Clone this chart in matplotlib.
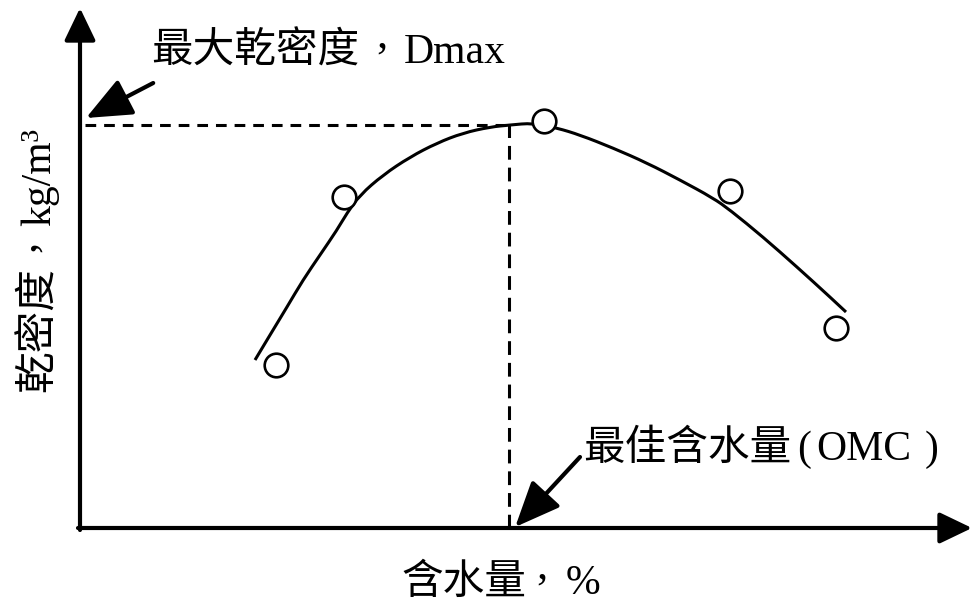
import matplotlib
matplotlib.use("Agg")
import matplotlib.pyplot as plt
from matplotlib.path import Path
from matplotlib.patches import PathPatch

plt.rcParams['font.family'] = ['Liberation Serif', 'Noto Sans CJK TC']

# measured points (moisture %, dry density kg/m3)
moisture = [4.9, 6.6, 11.6, 16.25, 18.9]
density = [1663, 1831, 1907, 1837, 1700]

# hand drawn compaction curve
curve_x = [4.375, 4.75, 5.175, 5.575, 6.0, 6.425, 6.675, 7.0, 7.575, 8.25,
           8.925, 9.575, 10.25, 10.75, 11.325, 11.925, 12.5, 13.325, 14.175,
           15.0, 15.825, 16.25, 17.075, 17.925, 18.75, 19.15]
curve_y = [1668, 1693, 1721, 1748, 1773, 1798, 1815, 1833, 1853, 1871,
           1885, 1895, 1901, 1903, 1905, 1900, 1893, 1880, 1865,
           1848, 1830, 1818, 1791, 1761, 1731, 1716]

dmax = 1903
omc = 10.73

W, H = 973, 603
fig = plt.figure(figsize=(W / 100, H / 100), dpi=100)
ax = fig.add_axes([0, 0, 1, 1])
ax.set_xlim(-2, 22.325)
ax.set_ylim(1425, 2028)
ax.set_axis_off()

# axes with arrow heads
arrow = dict(arrowstyle='-|>,head_length=1.0,head_width=0.48', lw=3,
             color='black', shrinkA=0, shrinkB=0, mutation_scale=20)
ax.annotate('', xy=(0, 2020), xytext=(0, 1498), arrowprops=arrow)
ax.annotate('', xy=(22.3, 1500), xytext=(-0.05, 1500), arrowprops=arrow)

# dashed guide lines
ax.plot([0.12, omc], [dmax, dmax], color='black', lw=2.2,
        linestyle=(0, (3.5, 2.6)))
ax.plot([omc, omc], [1500, dmax], color='black', lw=2.2,
        linestyle=(0, (4.5, 2.6)))

# smooth the curve: quadratic pieces between midpoints of the read points
pts = list(zip(curve_x, curve_y))
verts = [pts[0]]
codes = [Path.MOVETO]
for i in range(1, len(pts) - 1):
    if i < len(pts) - 2:
        end = ((pts[i][0] + pts[i + 1][0]) / 2, (pts[i][1] + pts[i + 1][1]) / 2)
    else:
        end = pts[i + 1]
    verts += [pts[i], end]
    codes += [Path.CURVE3, Path.CURVE3]
ax.add_patch(PathPatch(Path(verts, codes), fill=False, lw=2.2,
                       edgecolor='black', zorder=3))

ax.plot(moisture, density, 'o', ms=17, mfc='white', mec='black', mew=1.9,
        zorder=4)

# annotation arrows
pointer = dict(arrowstyle='-|>,head_length=1.4,head_width=0.6', lw=3,
               color='black', shrinkA=0, shrinkB=0, mutation_scale=20)
ax.annotate('', xy=(0.15, 1910), xytext=(1.83, 1945), arrowprops=pointer)
ax.annotate('', xy=(10.88, 1501), xytext=(12.5, 1571), arrowprops=pointer)


def put(s, x, y, rot=0, size=30):
    # x, y: pixel position of the baseline start, from the top left
    fig.text(x / W, 1 - y / H, s, fontsize=size, ha='left', va='baseline',
             rotation=rot, rotation_mode='anchor')


# labels, pieced so the comma sits centred like a full width mark
put('最大乾密度', 151, 63)
put(',', 376, 48, size=32)
put('Dmax', 404, 63)

put('最佳含水量', 583, 460)
put('(', 797, 460)
put('OMC', 816, 460)
put(')', 925, 460)

put('含水量', 401, 594)
put(',', 536, 579, size=32)
put('%', 566, 594)

put('乾密度', 50, 392, rot=90)
put(',', 35, 252, rot=90, size=32)
put('kg/m³', 50, 226, rot=90)

fig.savefig('out.png', dpi=100)
